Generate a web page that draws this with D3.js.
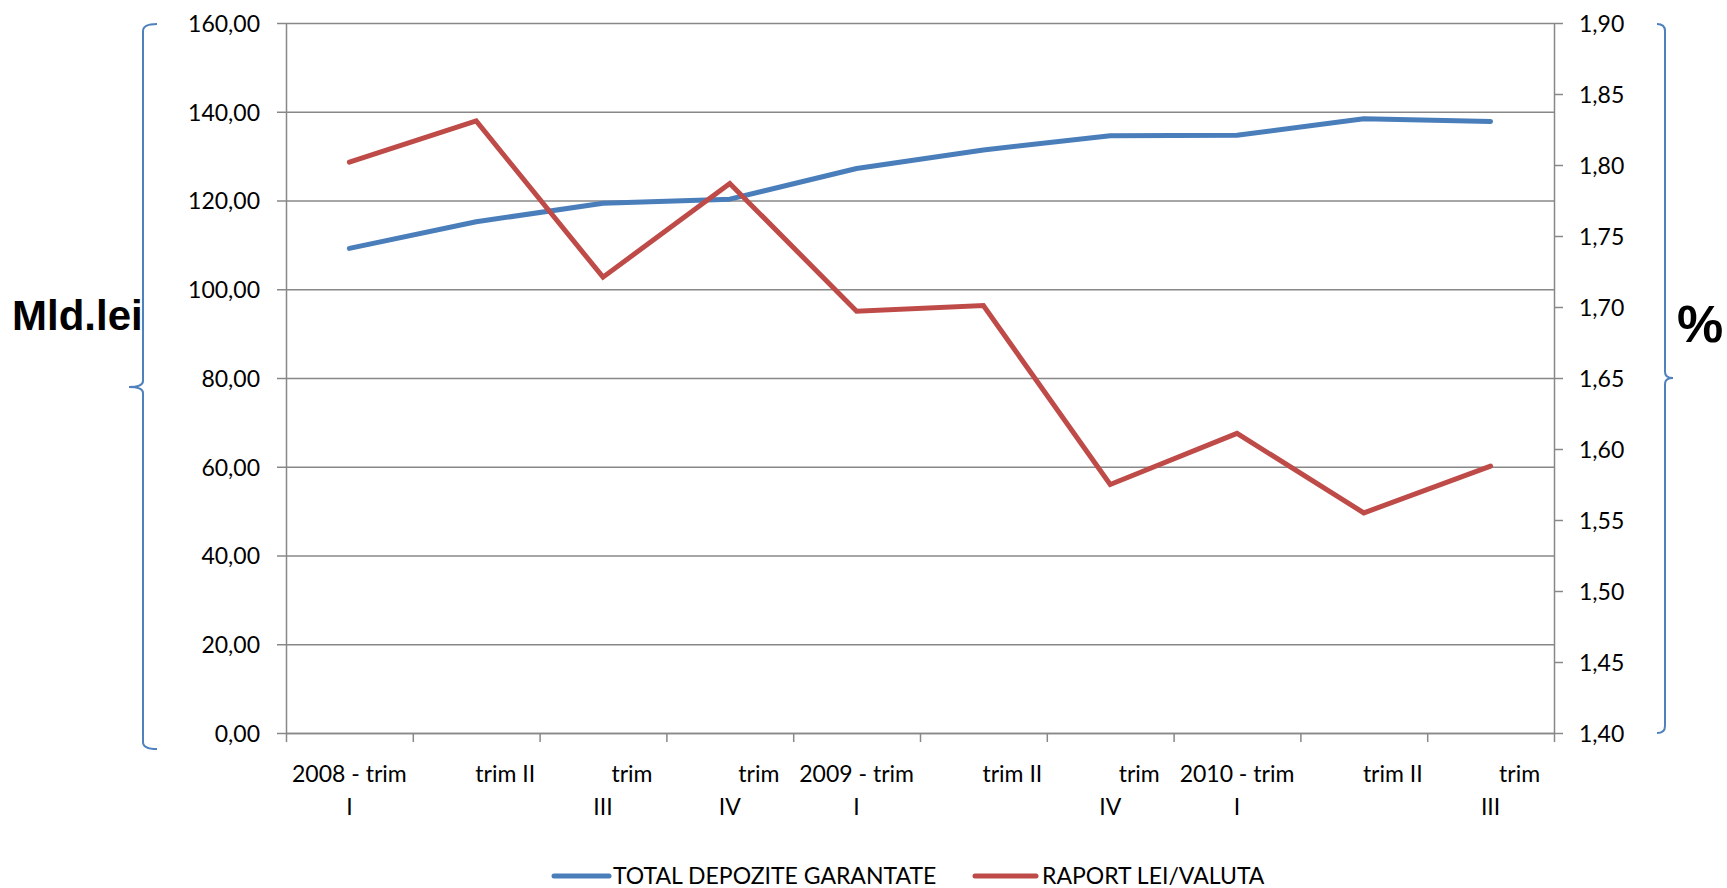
<!DOCTYPE html>
<html>
<head>
<meta charset="utf-8">
<script src="https://cdn.jsdelivr.net/npm/d3@7"></script>
<style>
  html, body { margin: 0; padding: 0; background: #fff; }
  svg { display: block; }
  text { font-family: Lato, "Open Sans", sans-serif; fill: #000; }
</style>
</head>
<body>
<svg id="chart" width="1727" height="888"></svg>
<script>
// ---- data ----
const categoryLines = [
  ["2008 - trim", "I"],
  ["trim II"],
  ["trim", "III"],
  ["trim", "IV"],
  ["2009 - trim", "I"],
  ["trim II"],
  ["trim", "IV"],
  ["2010 - trim", "I"],
  ["trim II"],
  ["trim", "III"]
];
const seriesNames = ["TOTAL DEPOZITE GARANTATE", "RAPORT LEI/VALUTA"];
const depozite = [109.2, 115.2, 119.4, 120.3, 127.2, 131.4, 134.6, 134.7, 138.4, 137.8];
const raport = [1.802, 1.831, 1.721, 1.787, 1.697, 1.701, 1.575, 1.611, 1.555, 1.588];
const leftTicks = [0, 20, 40, 60, 80, 100, 120, 140, 160];
const rightTicks = [1.40, 1.45, 1.50, 1.55, 1.60, 1.65, 1.70, 1.75, 1.80, 1.85, 1.90];
const leftTitle = "Mld.lei";
const rightTitle = "%";

// ---- layout ----
const svg = d3.select("#chart");
const X0 = 286, X1 = 1554, YT = 23, YB = 733;
const blue = "#4A7EBB", red = "#BE4B48", grid = "#888888", brace = "#4F81BD";
const fs = 23;

const loc = d3.formatLocale({decimal: ",", thousands: ".", grouping: [3], currency: ["", ""]});
const fmt = loc.format(".2f");

const n = categoryLines.length;
const xIdx = d3.scaleLinear().domain([0, n]).range([X0, X1]);
const xBand = d3.scaleBand().domain(d3.range(n)).range([X0, X1]).padding(0);
const yL = d3.scaleLinear().domain([0, 160]).range([YB, YT]);
const yR = d3.scaleLinear().domain([1.4, 1.9]).range([YB, YT]);

// gridlines
const gGrid = svg.append("g").attr("transform", `translate(${X0},0)`)
  .call(d3.axisLeft(yL).tickValues(leftTicks).tickSize(-(X1 - X0)).tickFormat(""));
gGrid.select(".domain").remove();
gGrid.selectAll("line").attr("stroke", grid).attr("stroke-width", 1.5);

// left axis
const gL = svg.append("g").attr("transform", `translate(${X0},0)`)
  .call(d3.axisLeft(yL).tickValues(leftTicks).tickSize(9).tickPadding(17).tickSizeOuter(0).tickFormat(fmt));
gL.select(".domain").attr("stroke", grid).attr("stroke-width", 1.5);
gL.selectAll("line").attr("stroke", grid).attr("stroke-width", 1.5);
gL.selectAll("text").attr("font-size", fs).attr("font-family", "Lato").attr("fill", "#000").attr("dy", "0.36em");

// right axis
const gR = svg.append("g").attr("transform", `translate(${X1},0)`)
  .call(d3.axisRight(yR).tickValues(rightTicks).tickSize(9).tickPadding(16).tickSizeOuter(0).tickFormat(fmt));
gR.select(".domain").attr("stroke", grid).attr("stroke-width", 1.5);
gR.selectAll("line").attr("stroke", grid).attr("stroke-width", 1.5);
gR.selectAll("text").attr("font-size", fs).attr("font-family", "Lato").attr("fill", "#000").attr("dy", "0.36em");

// bottom axis (ticks at category boundaries)
const gB = svg.append("g").attr("transform", `translate(0,${YB})`)
  .call(d3.axisBottom(xIdx).tickValues(d3.range(n + 1)).tickSize(9).tickSizeOuter(0).tickFormat(""));
gB.select(".domain").attr("stroke", grid).attr("stroke-width", 1.5);
gB.selectAll("line").attr("stroke", grid).attr("stroke-width", 1.5);

// category labels
const lab = svg.append("g");
categoryLines.forEach((lines, i) => {
  const cx = xBand(i) + xBand.bandwidth() / 2;
  const indent = /^\d/.test(lines[0]) ? 0 : 29;
  lines.forEach((t, j) => {
    lab.append("text")
      .attr("x", cx + (j === 0 ? indent : 0))
      .attr("y", 782 + j * 33)
      .attr("text-anchor", "middle")
      .attr("font-size", fs)
      .text(t);
  });
});

// lines
const cxOf = i => xBand(i) + xBand.bandwidth() / 2;
const lineL = d3.line().x((d, i) => cxOf(i)).y(d => yL(d));
const lineR = d3.line().x((d, i) => cxOf(i)).y(d => yR(d));
svg.append("path").datum(depozite).attr("d", lineL)
  .attr("fill", "none").attr("stroke", blue).attr("stroke-width", 5)
  .attr("stroke-linecap", "round").attr("stroke-linejoin", "round");
svg.append("path").datum(raport).attr("d", lineR)
  .attr("fill", "none").attr("stroke", red).attr("stroke-width", 5)
  .attr("stroke-linecap", "round").attr("stroke-linejoin", "miter");

// legend
const legend = [
  {name: seriesNames[0], color: blue, x1: 554, x2: 609, tx: 613},
  {name: seriesNames[1], color: red, x1: 975, x2: 1036, tx: 1042}
];
legend.forEach(l => {
  svg.append("line").attr("x1", l.x1).attr("x2", l.x2).attr("y1", 876).attr("y2", 876)
    .attr("stroke", l.color).attr("stroke-width", 5).attr("stroke-linecap", "round");
  svg.append("text").attr("x", l.tx).attr("y", 884).attr("font-size", fs).text(l.name);
});

// axis titles
svg.append("text").attr("x", 12).attr("y", 330)
  .style("font-family", "'Liberation Sans', Arial, sans-serif")
  .attr("font-weight", "bold").attr("font-size", 42).text(leftTitle);
svg.append("text").attr("x", 1677).attr("y", 342)
  .style("font-family", "'Liberation Sans', Arial, sans-serif")
  .attr("font-weight", "bold").attr("font-size", 52).text(rightTitle);

// braces
const braceL = (x, top, bot, mid, hook, tip) =>
  `M${x + hook},${top} Q${x},${top} ${x},${top + 7} L${x},${mid - 6} Q${x},${mid} ${x - tip},${mid}` +
  ` Q${x},${mid} ${x},${mid + 6} L${x},${bot - 7} Q${x},${bot} ${x + hook},${bot}`;
const braceR = (x, top, bot, mid, hook, tip) =>
  `M${x - hook},${top} Q${x},${top} ${x},${top + 7} L${x},${mid - 6} Q${x},${mid} ${x + tip},${mid}` +
  ` Q${x},${mid} ${x},${mid + 6} L${x},${bot - 7} Q${x},${bot} ${x - hook},${bot}`;
svg.append("path").attr("d", braceL(143, 24, 749, 387, 14, 14))
  .attr("fill", "none").attr("stroke", brace).attr("stroke-width", 2);
svg.append("path").attr("d", braceR(1665, 24, 733, 378, 8, 8))
  .attr("fill", "none").attr("stroke", brace).attr("stroke-width", 2);
</script>
</body>
</html>
